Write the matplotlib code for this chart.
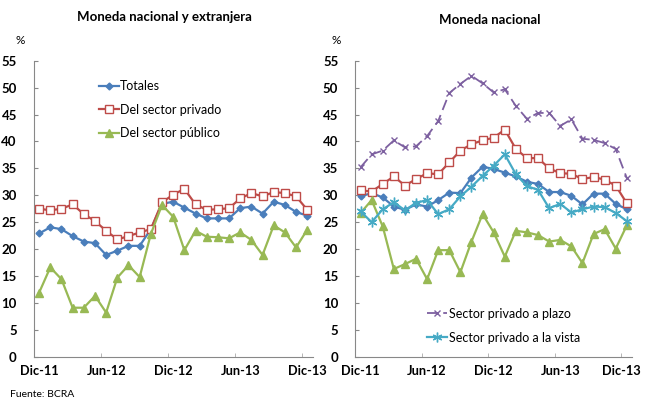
import numpy as np
import matplotlib
matplotlib.use("Agg")
import matplotlib.pyplot as plt
import matplotlib.transforms as mtransforms

plt.rcParams['font.family'] = ['Lato', 'DejaVu Sans']

meses = ["Dic-11", "Ene-12", "Feb-12", "Mar-12", "Abr-12", "May-12", "Jun-12",
         "Jul-12", "Ago-12", "Sep-12", "Oct-12", "Nov-12", "Dic-12", "Ene-13",
         "Feb-13", "Mar-13", "Abr-13", "May-13", "Jun-13", "Jul-13", "Ago-13",
         "Sep-13", "Oct-13", "Nov-13", "Dic-13"]

# Moneda nacional y extranjera
totales = [22.9, 24.05, 23.7, 22.4, 21.4, 21.1, 18.9, 19.7, 20.6, 20.6, 23.7, 28.4, 28.8,
           27.7, 26.6, 25.7, 25.7, 25.7, 27.6, 27.9, 26.6, 28.8, 28.2, 26.9, 26.2]
privado = [27.5, 27.2, 27.5, 28.3, 26.5, 25.2, 23.4, 21.8, 22.4, 23.1, 23.7, 28.7, 30.1,
           31.2, 28.3, 27.3, 27.4, 27.6, 29.4, 30.4, 29.8, 30.6, 30.4, 29.8, 27.3]
publico = [11.9, 16.6, 14.4, 9.1, 9.1, 11.3, 8.2, 14.7, 17.0, 14.8, 22.8, 28.2, 26.0,
           19.8, 23.4, 22.3, 22.2, 22.0, 23.1, 21.7, 18.9, 24.4, 23.1, 20.3, 23.6]

# Moneda nacional
mn_totales = [29.8, 30.4, 29.6, 27.9, 27.3, 28.3, 27.9, 29.1, 30.5, 30.4, 33.3, 35.3, 34.9,
              34.2, 33.5, 32.5, 32.1, 30.6, 30.6, 29.9, 28.3, 30.3, 30.3, 28.4, 27.4]
mn_privado = [30.9, 30.7, 32.1, 33.5, 31.8, 33.0, 34.1, 33.9, 36.1, 38.3, 39.5, 40.2, 40.7,
              42.2, 38.6, 36.9, 36.9, 35.0, 34.1, 34.0, 33.0, 33.4, 32.9, 31.8, 28.5]
mn_publico = [26.7, 29.1, 24.2, 16.3, 17.2, 18.2, 14.4, 19.8, 19.8, 15.7, 21.4, 26.5, 23.1,
              18.6, 23.4, 23.1, 22.6, 21.4, 21.7, 20.5, 17.4, 22.8, 23.7, 20.1, 24.4]
mn_plazo = [35.2, 37.6, 38.3, 40.2, 38.9, 39.1, 41.0, 43.8, 49.0, 50.7, 52.2, 50.8, 49.1,
            49.7, 46.6, 44.2, 45.3, 45.3, 42.9, 44.1, 40.5, 40.3, 39.7, 38.6, 33.2]
mn_vista = [27.0, 25.0, 27.4, 28.7, 27.2, 28.6, 29.1, 26.5, 27.4, 29.8, 31.6, 33.6, 35.5,
            37.6, 33.9, 31.7, 31.0, 27.6, 28.4, 26.8, 27.4, 27.9, 27.8, 26.7, 25.2]

azul = "#4a7ebb"
rojo = "#be4b48"
verde = "#98b954"
violeta = "#7d60a0"
celeste = "#46aac5"

fig = plt.figure(figsize=(6.45, 4.01), dpi=100)
ax1 = fig.add_axes([0.052, 0.1105, 0.433, 0.738])
ax2 = fig.add_axes([0.5504, 0.1105, 0.430, 0.738])

x = np.arange(len(meses))


def series_basicas(ax, tot, priv, pub):
    ax.plot(x, tot, color=azul, lw=1.6, marker="D", ms=3.5, mfc=azul, mec=azul,
            label="Totales")
    ax.plot(x, priv, color=rojo, lw=1.6, marker="s", ms=6, mfc="white", mec=rojo,
            mew=1.0, label="Del sector privado")
    ax.plot(x, pub, color=verde, lw=1.6, marker="^", ms=5.5, mfc=verde, mec=verde,
            label="Del sector público")


def formato(ax):
    ax.set_xlim(-0.5, len(meses) - 0.5)
    ax.set_ylim(0, 55)
    ax.set_yticks(np.arange(0, 56, 5))
    ax.set_xticks([0, 6, 12, 18, 24])
    ax.set_xticklabels([meses[i] for i in [0, 6, 12, 18, 24]])
    ax.set_xticks([5.5, 11.5, 17.5, 23.5], minor=True)
    for s in ["top", "right"]:
        ax.spines[s].set_visible(False)
    for s in ["left", "bottom"]:
        ax.spines[s].set_color("#888888")
        ax.spines[s].set_linewidth(0.8)
    ax.tick_params(axis="y", direction="in", length=3, color="#888888",
                   labelsize=9.5, pad=12)
    ax.tick_params(axis="x", which="major", length=0, labelsize=9.2, pad=6)
    ax.tick_params(axis="x", which="minor", direction="in", length=3, color="#aaaaaa")
    for lab in ax.get_xticklabels() + ax.get_yticklabels():
        lab.set_fontweight("bold")


series_basicas(ax1, totales, privado, publico)
formato(ax1)
ax1.legend(loc="upper left", bbox_to_anchor=(0.145, 0.812), bbox_transform=fig.transFigure,
           frameon=False, fontsize=9, handlelength=1.6, handletextpad=0.1,
           labelspacing=0.9, borderaxespad=0)

series_basicas(ax2, mn_totales, mn_privado, mn_publico)
l1, = ax2.plot(x, mn_plazo, color=violeta, lw=1.3, ls=(0, (6, 3)), marker="x", ms=5,
               mew=1.0, label="Sector privado a plazo")
l2, = ax2.plot(x, mn_vista, color=celeste, lw=1.6, marker=(6, 2, 0), ms=7, mew=1.0,
               label="Sector privado a la vista")
formato(ax2)
ax2.legend(handles=[l1, l2], loc="upper left", bbox_to_anchor=(0.655, 0.245),
           bbox_transform=fig.transFigure, frameon=False, fontsize=9, handlelength=1.6,
           handletextpad=0.1, labelspacing=0.95, borderaxespad=0)

# nudge the last label so it stays inside the figure
ultimo = ax2.get_xticklabels()[-1]
ultimo.set_transform(ultimo.get_transform() +
                     mtransforms.ScaledTranslation(-4 / 72, 0, fig.dpi_scale_trans))

fig.text(0.255, 0.957, "Moneda nacional y extranjera", ha="center", va="center",
         fontsize=9.5, fontweight="bold")
fig.text(0.76, 0.95, "Moneda nacional", ha="center", va="center",
         fontsize=9.5, fontweight="bold")
fig.text(0.031, 0.9, "%", ha="center", va="center", fontsize=8.5)
fig.text(0.521, 0.9, "%", ha="center", va="center", fontsize=8.5)
fig.text(0.016, 0.015, "Fuente: BCRA", ha="left", va="center", fontsize=7.5)

fig.savefig("out.png", dpi=100)
